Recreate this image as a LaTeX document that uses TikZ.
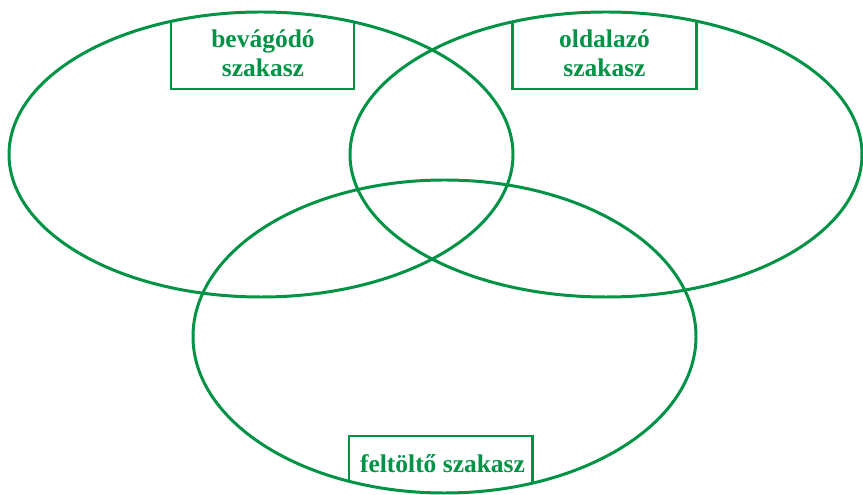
\documentclass[tikz,border=0pt]{standalone}
\usepackage{fontspec}
\setmainfont{Liberation Serif}
\usepackage{tikz}
\usetikzlibrary{positioning}
\definecolor{venngreen}{RGB}{0,146,69}

\begin{document}
\begin{tikzpicture}[venn/.style={line width=1.7pt, venngreen},
    segtext/.style={text=venngreen, font=\bfseries\fontsize{14.5}{16.5}\selectfont, align=center, inner sep=0pt}]
            \useasboundingbox (0, 0) rectangle (17.26, 9.9);
            % Draw the three sets
            \draw[venn] (5.22, 6.81) ellipse [x radius=5.04, y radius=2.85];
            \draw[venn] (12.12, 6.81) ellipse [x radius=5.12, y radius=2.85];
            \draw[venn] (8.89, 3.17) ellipse [x radius=5.03, y radius=3.13];
            % Open label boxes
            \draw[venn] (3.42, 9.47) |- (7.08, 8.12) -- (7.08, 9.46);
            \draw[venn] (10.24, 9.46) |- (13.92, 8.12) -- (13.92, 9.48);
            \draw[venn] (6.98, 0.26) |- (10.64, 1.18) -- (10.64, 0.24);
            % Label the sets
            \node[segtext, anchor=north] (bevagodo) at (5.26, 9.32) {bevágódó\\szakasz};
            \node[segtext, anchor=north] (oldalazo) at (12.09, 9.32) {oldalazó\\szakasz};
            \node[segtext, anchor=base] (feltolto) at (8.85, 0.45) {feltöltő szakasz};
\end{tikzpicture}
\end{document}
